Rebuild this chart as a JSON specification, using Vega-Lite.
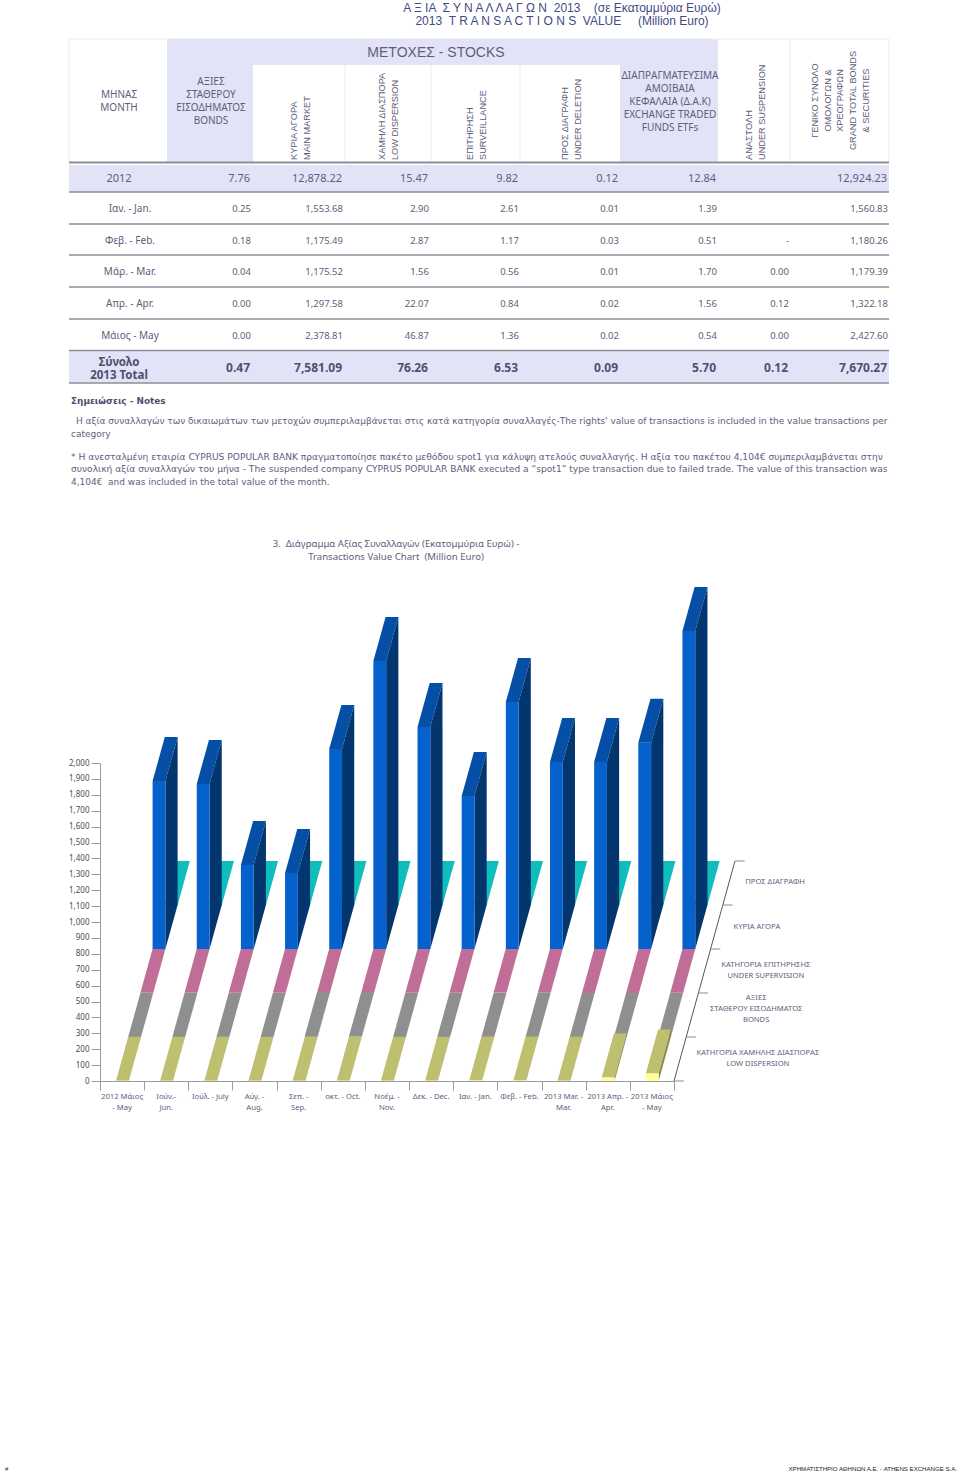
{
"$schema":"https://vega.github.io/schema/vega-lite/v6.json",
"width":960,"height":1474,"padding":0,"autosize":{"type":"none"},"background":"white",
"config":{"view":{"stroke":null},"axis":{"grid":false}},
"datasets":{
"bars":[
{"i":0,"s":"del","d":4,"v":0.01},{"i":1,"s":"del","d":4,"v":0.01},{"i":2,"s":"del","d":4,"v":0.01},{"i":3,"s":"del","d":4,"v":0.01},{"i":4,"s":"del","d":4,"v":0.01},{"i":5,"s":"del","d":4,"v":0.01},{"i":6,"s":"del","d":4,"v":0.01},{"i":7,"s":"del","d":4,"v":0.01},{"i":8,"s":"del","d":4,"v":0.01},{"i":9,"s":"del","d":4,"v":0.03},{"i":10,"s":"del","d":4,"v":0.01},{"i":11,"s":"del","d":4,"v":0.02},{"i":12,"s":"del","d":4,"v":0.02},
{"i":0,"s":"main","d":3,"v":1057},{"i":1,"s":"main","d":3,"v":1038},{"i":2,"s":"main","d":3,"v":528},{"i":3,"s":"main","d":3,"v":478},{"i":4,"s":"main","d":3,"v":1258},{"i":5,"s":"main","d":3,"v":1811},{"i":6,"s":"main","d":3,"v":1396},{"i":7,"s":"main","d":3,"v":962},{"i":8,"s":"main","d":3,"v":1553.68},{"i":9,"s":"main","d":3,"v":1175.49},{"i":10,"s":"main","d":3,"v":1175.52},{"i":11,"s":"main","d":3,"v":1297.58},{"i":12,"s":"main","d":3,"v":2378.81},
{"i":0,"s":"surv","d":2,"v":1},{"i":1,"s":"surv","d":2,"v":1},{"i":2,"s":"surv","d":2,"v":1},{"i":3,"s":"surv","d":2,"v":1},{"i":4,"s":"surv","d":2,"v":1},{"i":5,"s":"surv","d":2,"v":1},{"i":6,"s":"surv","d":2,"v":1},{"i":7,"s":"surv","d":2,"v":1},{"i":8,"s":"surv","d":2,"v":2.61},{"i":9,"s":"surv","d":2,"v":1.17},{"i":10,"s":"surv","d":2,"v":0.56},{"i":11,"s":"surv","d":2,"v":0.84},{"i":12,"s":"surv","d":2,"v":1.36},
{"i":0,"s":"bonds","d":1,"v":0.5},{"i":1,"s":"bonds","d":1,"v":0.5},{"i":2,"s":"bonds","d":1,"v":0.5},{"i":3,"s":"bonds","d":1,"v":0.5},{"i":4,"s":"bonds","d":1,"v":6},{"i":5,"s":"bonds","d":1,"v":4},{"i":6,"s":"bonds","d":1,"v":0.5},{"i":7,"s":"bonds","d":1,"v":0.5},{"i":8,"s":"bonds","d":1,"v":0.25},{"i":9,"s":"bonds","d":1,"v":0.18},{"i":10,"s":"bonds","d":1,"v":0.04},{"i":11,"s":"bonds","d":1,"v":0},{"i":12,"s":"bonds","d":1,"v":0},
{"i":0,"s":"low","d":0,"v":1},{"i":1,"s":"low","d":0,"v":1},{"i":2,"s":"low","d":0,"v":1},{"i":3,"s":"low","d":0,"v":1},{"i":4,"s":"low","d":0,"v":1},{"i":5,"s":"low","d":0,"v":2},{"i":6,"s":"low","d":0,"v":2},{"i":7,"s":"low","d":0,"v":2},{"i":8,"s":"low","d":0,"v":2.9},{"i":9,"s":"low","d":0,"v":2.87},{"i":10,"s":"low","d":0,"v":1.56},{"i":11,"s":"low","d":0,"v":22.07},{"i":12,"s":"low","d":0,"v":46.87}
]
},
"resolve":{"scale":{"x":"independent","y":"independent","color":"independent"},"axis":{"x":"independent","y":"independent"}},
"layer":[
{
"encoding":{
 "x":{"field":"c","type":"quantitative","axis":null,"scale":{"type":"linear","nice":false,"zero":false,"domain":[0,1,2,3,4,5,6,7,8,9,10,11,12,13,14,15,16,17,18,19,20,21,22,23,24,25,26,27,28,29,30,31,32,33,34,35,36],"range":[0,5,69,71,76,119,130,167,211,250,253,294,342,345,382,396,428,431,436,470,518,520,562,565,618,620,670,716,718,749,788,790,815,887,889,957,960]}},
 "y":{"field":"r","type":"quantitative","axis":null,"scale":{"type":"linear","nice":false,"zero":false,"domain":[0,1,2,3,4,5,6,7,8,9,10,11,12,13,14,15,16,17,18,19,20,21,22,23,24,25,26,27,28,29,30,31,32,33],"range":[0,7.5,20.5,39,52.5,65,100.5,160,162.5,165,178.5,192,209,224,241,255,272,287,304,319,335.5,350.5,367.5,383,400.5,421,434,456.5,469,482,544,557,1469,1474]}}
},
"layer":[
{"data":{"values":[{"c":7,"c2":10,"r":3,"r2":8},{"c":7,"c2":25,"r":3,"r2":5},{"c":25,"c2":28,"r":3,"r2":8},{"c":2,"c2":34,"r":9,"r2":11},{"c":2,"c2":34,"r":21,"r2":23}]},
 "mark":{"type":"rect","fill":"#E3E3F8"},
 "encoding":{"x2":{"field":"c2"},"y2":{"field":"r2"}}},
{"data":{"values":[{"c":2,"c2":34,"r":3,"r2":3},{"c":2,"c2":2,"r":3,"r2":8},{"c":13,"c2":13,"r":5,"r2":8},{"c":17,"c2":17,"r":5,"r2":8},{"c":21,"c2":21,"r":5,"r2":8},{"c":31,"c2":31,"r":3,"r2":8},{"c":34,"c2":34,"r":3,"r2":8}]},
 "mark":{"type":"rule","stroke":"#EBEBEB","strokeWidth":1},
 "encoding":{"x2":{"field":"c2"},"y2":{"field":"r2"}}},
{"data":{"values":[{"c":2,"c2":34,"r":11},{"c":2,"c2":34,"r":13},{"c":2,"c2":34,"r":15},{"c":2,"c2":34,"r":17},{"c":2,"c2":34,"r":19},{"c":2,"c2":34,"r":21},{"c":2,"c2":34,"r":23}]},
 "mark":{"type":"rule","stroke":"#8E8E96","strokeWidth":1.3},
 "encoding":{"x2":{"field":"c2"}}},
{"data":{"values":[{"c":2,"c2":34,"r":8}]},
 "mark":{"type":"rule","stroke":"#8E8E96","strokeWidth":2.2},
 "encoding":{"x2":{"field":"c2"}}},
{"data":{"values":[
 {"c":22,"r":1,"t":"Α Ξ ΙΑ \u00a0Σ Υ Ν Α Λ Λ Α Γ Ω Ν \u00a02013 \u00a0 \u00a0(σε Εκατομμύρια Ευρώ)"},
 {"c":22,"r":2,"t":"2013 \u00a0T R A N S A C T I O N S \u00a0VALUE \u00a0 \u00a0 (Million Euro)"}]},
 "mark":{"type":"text","font":"Liberation Sans","fontSize":12,"fill":"#3F4A86","align":"center","baseline":"middle"},
 "encoding":{"text":{"field":"t"}}},
{"data":{"values":[{"c":18,"r":4,"t":"ΜΕΤΟΧΕΣ - STOCKS"}]},
 "mark":{"type":"text","font":"Liberation Sans","fontSize":14,"fill":"#5E5E7C","align":"center","baseline":"middle"},
 "encoding":{"text":{"field":"t"}}},
{"data":{"values":[{"c":5,"r":6,"t":"ΜΗΝΑΣ\nMONTH"}]},
 "mark":{"type":"text","font":"Noto Sans","fontSize":10,"lineHeight":13,"lineBreak":"\n","fill":"#5E5E7C","align":"center","baseline":"middle","dy":-5.5},
 "encoding":{"text":{"field":"t"}}},
{"data":{"values":[{"c":8,"r":6,"t":"ΑΞΙΕΣ\nΣΤΑΘΕΡΟΥ\nΕΙΣΟΔΗΜΑΤΟΣ\nBONDS"}]},
 "mark":{"type":"text","font":"Noto Sans","fontSize":10,"lineHeight":13,"lineBreak":"\n","fill":"#5E5E7C","align":"center","baseline":"middle","dy":-18.5},
 "encoding":{"text":{"field":"t"}}},
{"data":{"values":[{"c":26,"r":6,"t":"ΔΙΑΠΡΑΓΜΑΤΕΥΣΙΜΑ\nΑΜΟΙΒΑΙΑ\nΚΕΦΑΛΑΙΑ (Δ.Α.Κ)\nEXCHANGE TRADED\nFUNDS ETFs"}]},
 "mark":{"type":"text","font":"Noto Sans","fontSize":10,"lineHeight":13,"lineBreak":"\n","fill":"#5E5E7C","align":"center","baseline":"middle","dy":-24.5},
 "encoding":{"text":{"field":"t"}}},
{"data":{"values":[
 {"c":11,"r":7,"t":"ΚΥΡΙΑ ΑΓΟΡΑ\nMAIN MARKET"},
 {"c":14,"r":7,"t":"ΧΑΜΗΛΗ ΔΙΑΣΠΟΡΑ\nLOW DISPERSION"},
 {"c":19,"r":7,"t":"ΕΠΙΤΗΡΗΣΗ\nSURVEILLANCE"},
 {"c":23,"r":7,"t":"ΠΡΟΣ ΔΙΑΓΡΑΦΗ\nUNDER DELETION"},
 {"c":29,"r":7,"t":"ΑΝΑΣΤΟΛΗ\nUNDER SUSPENSION"}]},
 "mark":{"type":"text","font":"Liberation Sans","fontSize":9.2,"lineHeight":12.5,"lineBreak":"\n","fill":"#5E5E7C","align":"left","baseline":"middle","angle":270},
 "encoding":{"text":{"field":"t"}}},
{"data":{"values":[{"c":32,"r":6,"t":"ΓΕΝΙΚΟ ΣΥΝΟΛΟ\nΟΜΟΛΟΓΩΝ &\nΧΡΕΟΓΡΑΦΩΝ\nGRAND TOTAL BONDS\n& SECURITIES"}]},
 "mark":{"type":"text","font":"Liberation Sans","fontSize":9.2,"lineHeight":12.7,"lineBreak":"\n","fill":"#5E5E7C","align":"center","baseline":"middle","angle":270},
 "encoding":{"text":{"field":"t"}}},
{"data":{"values":[{"c":5,"r":10,"t":"2012"}]},
 "mark":{"type":"text","font":"Noto Sans","fontSize":11,"fill":"#5E5E7C","align":"center","baseline":"middle"},"encoding":{"text":{"field":"t"}}},
{"data":{"values":[
 {"c":9,"r":10,"t":"7.76"},{"c":12,"r":10,"t":"12,878.22"},{"c":16,"r":10,"t":"15.47"},{"c":20,"r":10,"t":"9.82"},{"c":24,"r":10,"t":"0.12"},{"c":27,"r":10,"t":"12.84"},{"c":33,"r":10,"t":"12,924.23"}]},
 "mark":{"type":"text","font":"Noto Sans","fontSize":11,"fill":"#5E5E7C","align":"right","baseline":"middle"},"encoding":{"text":{"field":"t"}}},
{"data":{"values":[
 {"c":6,"r":12,"t":"Ιαν. - Jan."},{"c":6,"r":14,"t":"Φεβ. - Feb."},{"c":6,"r":16,"t":"Μάρ. - Mar."},{"c":6,"r":18,"t":"Απρ. - Apr."},{"c":6,"r":20,"t":"Μάιος - May"}]},
 "mark":{"type":"text","font":"Noto Sans","fontSize":10,"fill":"#5E5E7C","align":"center","baseline":"middle"},
 "encoding":{"text":{"field":"t"}}},
{"data":{"values":[
 {"c":9,"r":12,"t":"0.25"},{"c":12,"r":12,"t":"1,553.68"},{"c":16,"r":12,"t":"2.90"},{"c":20,"r":12,"t":"2.61"},{"c":24,"r":12,"t":"0.01"},{"c":27,"r":12,"t":"1.39"},{"c":33,"r":12,"t":"1,560.83"},
 {"c":9,"r":14,"t":"0.18"},{"c":12,"r":14,"t":"1,175.49"},{"c":16,"r":14,"t":"2.87"},{"c":20,"r":14,"t":"1.17"},{"c":24,"r":14,"t":"0.03"},{"c":27,"r":14,"t":"0.51"},{"c":30,"r":14,"t":"-"},{"c":33,"r":14,"t":"1,180.26"},
 {"c":9,"r":16,"t":"0.04"},{"c":12,"r":16,"t":"1,175.52"},{"c":16,"r":16,"t":"1.56"},{"c":20,"r":16,"t":"0.56"},{"c":24,"r":16,"t":"0.01"},{"c":27,"r":16,"t":"1.70"},{"c":30,"r":16,"t":"0.00"},{"c":33,"r":16,"t":"1,179.39"},
 {"c":9,"r":18,"t":"0.00"},{"c":12,"r":18,"t":"1,297.58"},{"c":16,"r":18,"t":"22.07"},{"c":20,"r":18,"t":"0.84"},{"c":24,"r":18,"t":"0.02"},{"c":27,"r":18,"t":"1.56"},{"c":30,"r":18,"t":"0.12"},{"c":33,"r":18,"t":"1,322.18"},
 {"c":9,"r":20,"t":"0.00"},{"c":12,"r":20,"t":"2,378.81"},{"c":16,"r":20,"t":"46.87"},{"c":20,"r":20,"t":"1.36"},{"c":24,"r":20,"t":"0.02"},{"c":27,"r":20,"t":"0.54"},{"c":30,"r":20,"t":"0.00"},{"c":33,"r":20,"t":"2,427.60"}]},
 "mark":{"type":"text","font":"Noto Sans","fontSize":9.5,"dx":1,"fill":"#5E5E7C","align":"right","baseline":"middle"},
 "encoding":{"text":{"field":"t"}}},
{"data":{"values":[
 {"c":9,"r":22,"t":"0.47"},{"c":12,"r":22,"t":"7,581.09"},{"c":16,"r":22,"t":"76.26"},{"c":20,"r":22,"t":"6.53"},{"c":24,"r":22,"t":"0.09"},{"c":27,"r":22,"t":"5.70"},{"c":30,"r":22,"t":"0.12"},{"c":33,"r":22,"t":"7,670.27"}]},
 "mark":{"type":"text","font":"Noto Sans","fontSize":12,"fontWeight":"bold","fill":"#4F4F70","align":"right","baseline":"middle"},
 "encoding":{"text":{"field":"t"}}},
{"data":{"values":[{"c":5,"r":22,"t":"Σύνολο\n2013 Total"}]},
 "mark":{"type":"text","font":"Noto Sans","fontSize":11.5,"fontWeight":"bold","lineHeight":13,"lineBreak":"\n","fill":"#4F4F70","align":"center","baseline":"middle","dy":-5},
 "encoding":{"text":{"field":"t"}}},
{"data":{"values":[{"c":3,"r":24,"t":"Σημειώσεις - Notes"}]},
 "mark":{"type":"text","font":"DejaVu Sans","fontSize":8.9,"fontWeight":"bold","fill":"#4F4F70","align":"left","baseline":"middle"},
 "encoding":{"text":{"field":"t"}}},
{"data":{"values":[
 {"c":4,"r":25,"t":"Η αξία συναλλαγών των δικαιωμάτων των μετοχών συμπεριλαμβάνεται στις κατά κατηγορία συναλλαγές-The rights' value of transactions is included in the value transactions per"},
 {"c":3,"r":26,"t":"category"},
 {"c":3,"r":29,"t":"4,104€ \u00a0and was included in the total value of the month."}]},
 "mark":{"type":"text","font":"DejaVu Sans","fontSize":8.97,"fill":"#5E5E7C","align":"left","baseline":"middle"},
 "encoding":{"text":{"field":"t"}}},
{"data":{"values":[
 {"c":3,"r":27,"t":"* Η ανεσταλμένη εταιρία CYPRUS POPULAR BANK πραγματοποίησε πακέτο μεθόδου spot1 για κάλυψη ατελούς συναλλαγής. Η αξία του πακέτου 4,104€ συμπεριλαμβάνεται στην"},
 {"c":3,"r":28,"t":"συνολική αξία συναλλαγών του μήνα - The suspended company CYPRUS POPULAR BANK executed a “spot1” type transaction due to failed trade. The value of this transaction was"}]},
 "mark":{"type":"text","font":"DejaVu Sans","fontSize":9.11,"fill":"#5E5E7C","align":"left","baseline":"middle"},
 "encoding":{"text":{"field":"t"}}},
{"data":{"values":[
 {"c":15,"r":30,"t":"3. \u00a0Διάγραμμα Αξίας Συναλλαγών (Εκατομμύρια Ευρώ) -"},
 {"c":15,"r":31,"t":"Transactions Value Chart \u00a0(Million Euro)"}]},
 "mark":{"type":"text","font":"Noto Sans","fontSize":9.6,"fill":"#5E5E7C","align":"center","baseline":"middle"},
 "encoding":{"text":{"field":"t"}}},
{"data":{"values":[{"c":1,"r":32,"t":"#"}]},
 "mark":{"type":"text","font":"Liberation Sans","fontSize":6,"fill":"#333333","align":"left","baseline":"middle"},
 "encoding":{"text":{"field":"t"}}},
{"data":{"values":[{"c":35,"r":32,"t":"ΧΡΗΜΑΤΙΣΤΗΡΙΟ ΑΘΗΝΩΝ Α.Ε. - ATHENS EXCHANGE S.A."}]},
 "mark":{"type":"text","font":"Liberation Sans","fontSize":6.1,"fill":"#222222","align":"right","baseline":"middle"},
 "encoding":{"text":{"field":"t"}}}
]
},
{
"layer":[
{"data":{"name":"bars"},
 "transform":[{"calculate":"min(datum.v,2000)","as":"h"},{"calculate":"[0,1]","as":"t"},{"flatten":["t"]},
  {"calculate":"datum.i+0.3624+(datum.d+datum.t)*0.2763","as":"xl"},{"calculate":"datum.xl+0.29","as":"xr"},
  {"calculate":"(datum.d+datum.t)*276.7+datum.h","as":"yt"},{"calculate":"datum.s+'-top'","as":"face"}],
 "mark":{"type":"area","orient":"horizontal"},
 "encoding":{
  "y":{"field":"yt","type":"quantitative","title":null,"scale":{"type":"linear","domain":[0,2000],"range":[1081,763],"nice":false,"zero":false},
   "axis":{"orient":"left","offset":-100,"values":[0,100,200,300,400,500,600,700,800,900,1000,1100,1200,1300,1400,1500,1600,1700,1800,1900,2000],"labelExpr":"format(datum.value, ',')","tickSize":9,"labelPadding":2,"labelFont":"Noto Sans","labelFontSize":8,"labelColor":"#4A4A5A","tickColor":"#9A9AA6","domainColor":"#9A9AA6","title":null}},
  "x":{"field":"xl","type":"quantitative","title":null,"scale":{"type":"linear","domain":[0,13],"range":[100,674],"nice":false,"zero":false},
   "axis":{"orient":"bottom","offset":-393,"values":[0,1,2,3,4,5,6,7,8,9,10,11,12,13],"labels":false,"tickSize":9,"tickColor":"#9A9AA6","domainColor":"#9A9AA6","title":null}},
  "x2":{"field":"xr"},
  "detail":{"field":"i"},
  "color":{"field":"face","type":"nominal","legend":null,"scale":{"domain":["del-top","del-side","del-front","main-top","main-side","main-front","surv-top","surv-side","surv-front","bonds-top","bonds-side","bonds-front","low-top","low-side","low-front"],"range":["#10BDBD","#0A8F8F","#10BDBD","#0550A6","#03356F","#0562CC","#C06E98","#8F4F70","#C06E98","#8F8F8F","#6B6B6B","#A0A0A0","#BFBF70","#8A8A48","#FFFF99"]}}
 }},
{"data":{"name":"bars"},
 "transform":[{"calculate":"min(datum.v,2000)","as":"h"},{"calculate":"[0,1]","as":"t"},{"flatten":["t"]},
  {"calculate":"datum.i+0.6524+(datum.d+datum.t)*0.2763","as":"xr"},
  {"calculate":"(datum.d+datum.t)*276.7","as":"yb"},{"calculate":"datum.yb+datum.h","as":"yt"},{"calculate":"datum.s+'-side'","as":"face"}],
 "mark":{"type":"area","orient":"vertical"},
 "encoding":{
  "x":{"field":"xr","type":"quantitative","title":null},
  "y":{"field":"yt","type":"quantitative","title":null},
  "y2":{"field":"yb"},
  "detail":{"field":"i"},
  "color":{"field":"face","type":"nominal","legend":null}
 }},
{"data":{"name":"bars"},
 "transform":[{"calculate":"min(datum.v,2000)","as":"h"},
  {"calculate":"datum.i+0.3624+datum.d*0.2763","as":"xl"},{"calculate":"datum.xl+0.29","as":"xr"},
  {"calculate":"datum.d*276.7","as":"yb"},{"calculate":"datum.yb+datum.h","as":"yt"},{"calculate":"datum.s+'-front'","as":"face"}],
 "mark":{"type":"rect"},
 "encoding":{
  "x":{"field":"xl","type":"quantitative","title":null},
  "x2":{"field":"xr"},
  "y":{"field":"yt","type":"quantitative","title":null},
  "y2":{"field":"yb"},
  "color":{"field":"face","type":"nominal","legend":null}
 }},
{"data":{"values":[{"a":13,"b":0,"a2":14.3815,"b2":1383.5}]},
 "mark":{"type":"rule","stroke":"#55555F","strokeWidth":1},
 "encoding":{"x":{"field":"a","type":"quantitative","title":null},"y":{"field":"b","type":"quantitative","title":null},"x2":{"field":"a2"},"y2":{"field":"b2"}}},
{"data":{"values":[{"d":0},{"d":1},{"d":2},{"d":3},{"d":4},{"d":5}]},
 "transform":[{"calculate":"13+datum.d*0.2763","as":"a"},{"calculate":"datum.a+0.22","as":"a2"},{"calculate":"datum.d*276.7","as":"b"}],
 "mark":{"type":"rule","stroke":"#8A8A96","strokeWidth":1},
 "encoding":{"x":{"field":"a","type":"quantitative","title":null},"x2":{"field":"a2"},"y":{"field":"b","type":"quantitative","title":null}}},
{"data":{"values":[
 {"m":0.5,"t":"2012 Μάιος\n- May"},{"m":1.5,"t":"\u00a0\u00a0\u00a0\u00a0\u00a0\u00a0Ιούν.-\nJun."},{"m":2.5,"t":"Ιούλ. - July"},{"m":3.5,"t":"\u00a0\u00a0\u00a0\u00a0\u00a0\u00a0Αύγ. -\nAug."},{"m":4.5,"t":"\u00a0\u00a0\u00a0\u00a0\u00a0\u00a0Σεπ. -\nSep."},{"m":5.5,"t":"οκτ. - Oct."},{"m":6.5,"t":"Νοέμ. -\nNov."},{"m":7.5,"t":"Δεκ. - Dec."},{"m":8.5,"t":"Ιαν. - Jan."},{"m":9.5,"t":"Φεβ. - Feb."},{"m":10.5,"t":"2013 Mar. -\nMar."},{"m":11.5,"t":"2013 Απρ. -\nApr."},{"m":12.5,"t":"2013 Μάιος\n- May"}]},
 "transform":[{"calculate":"0","as":"z"}],
 "mark":{"type":"text","font":"Noto Sans","fontSize":7.7,"lineHeight":11,"lineBreak":"\n","fill":"#5E5E7C","align":"center","baseline":"top","dy":12},
 "encoding":{"x":{"field":"m","type":"quantitative","title":null},"y":{"field":"z","type":"quantitative","title":null},"text":{"field":"t"}}},
{"data":{"values":[
 {"lx":15.29,"ly":1252,"t":"ΠΡΟΣ ΔΙΑΓΡΑΦΗ"},
 {"lx":14.88,"ly":969,"t":"ΚΥΡΙΑ ΑΓΟΡΑ"},
 {"lx":15.08,"ly":730,"t":"ΚΑΤΗΓΟΡΙΑ ΕΠΙΤΗΡΗΣΗΣ\nUNDER SUPERVISION"},
 {"lx":14.86,"ly":522,"t":"ΑΞΙΕΣ\nΣΤΑΘΕΡΟΥ ΕΙΣΟΔΗΜΑΤΟΣ\nBONDS"},
 {"lx":14.9,"ly":176,"t":"ΚΑΤΗΓΟΡΙΑ ΧΑΜΗΛΗΣ ΔΙΑΣΠΟΡΑΣ\nLOW DISPERSION"}]},
 "mark":{"type":"text","font":"Noto Sans","fontSize":7.6,"lineHeight":11,"lineBreak":"\n","fill":"#5E5E7C","align":"center","baseline":"middle"},
 "encoding":{"x":{"field":"lx","type":"quantitative","title":null},"y":{"field":"ly","type":"quantitative","title":null},"text":{"field":"t"}}}
]
}
]
}
